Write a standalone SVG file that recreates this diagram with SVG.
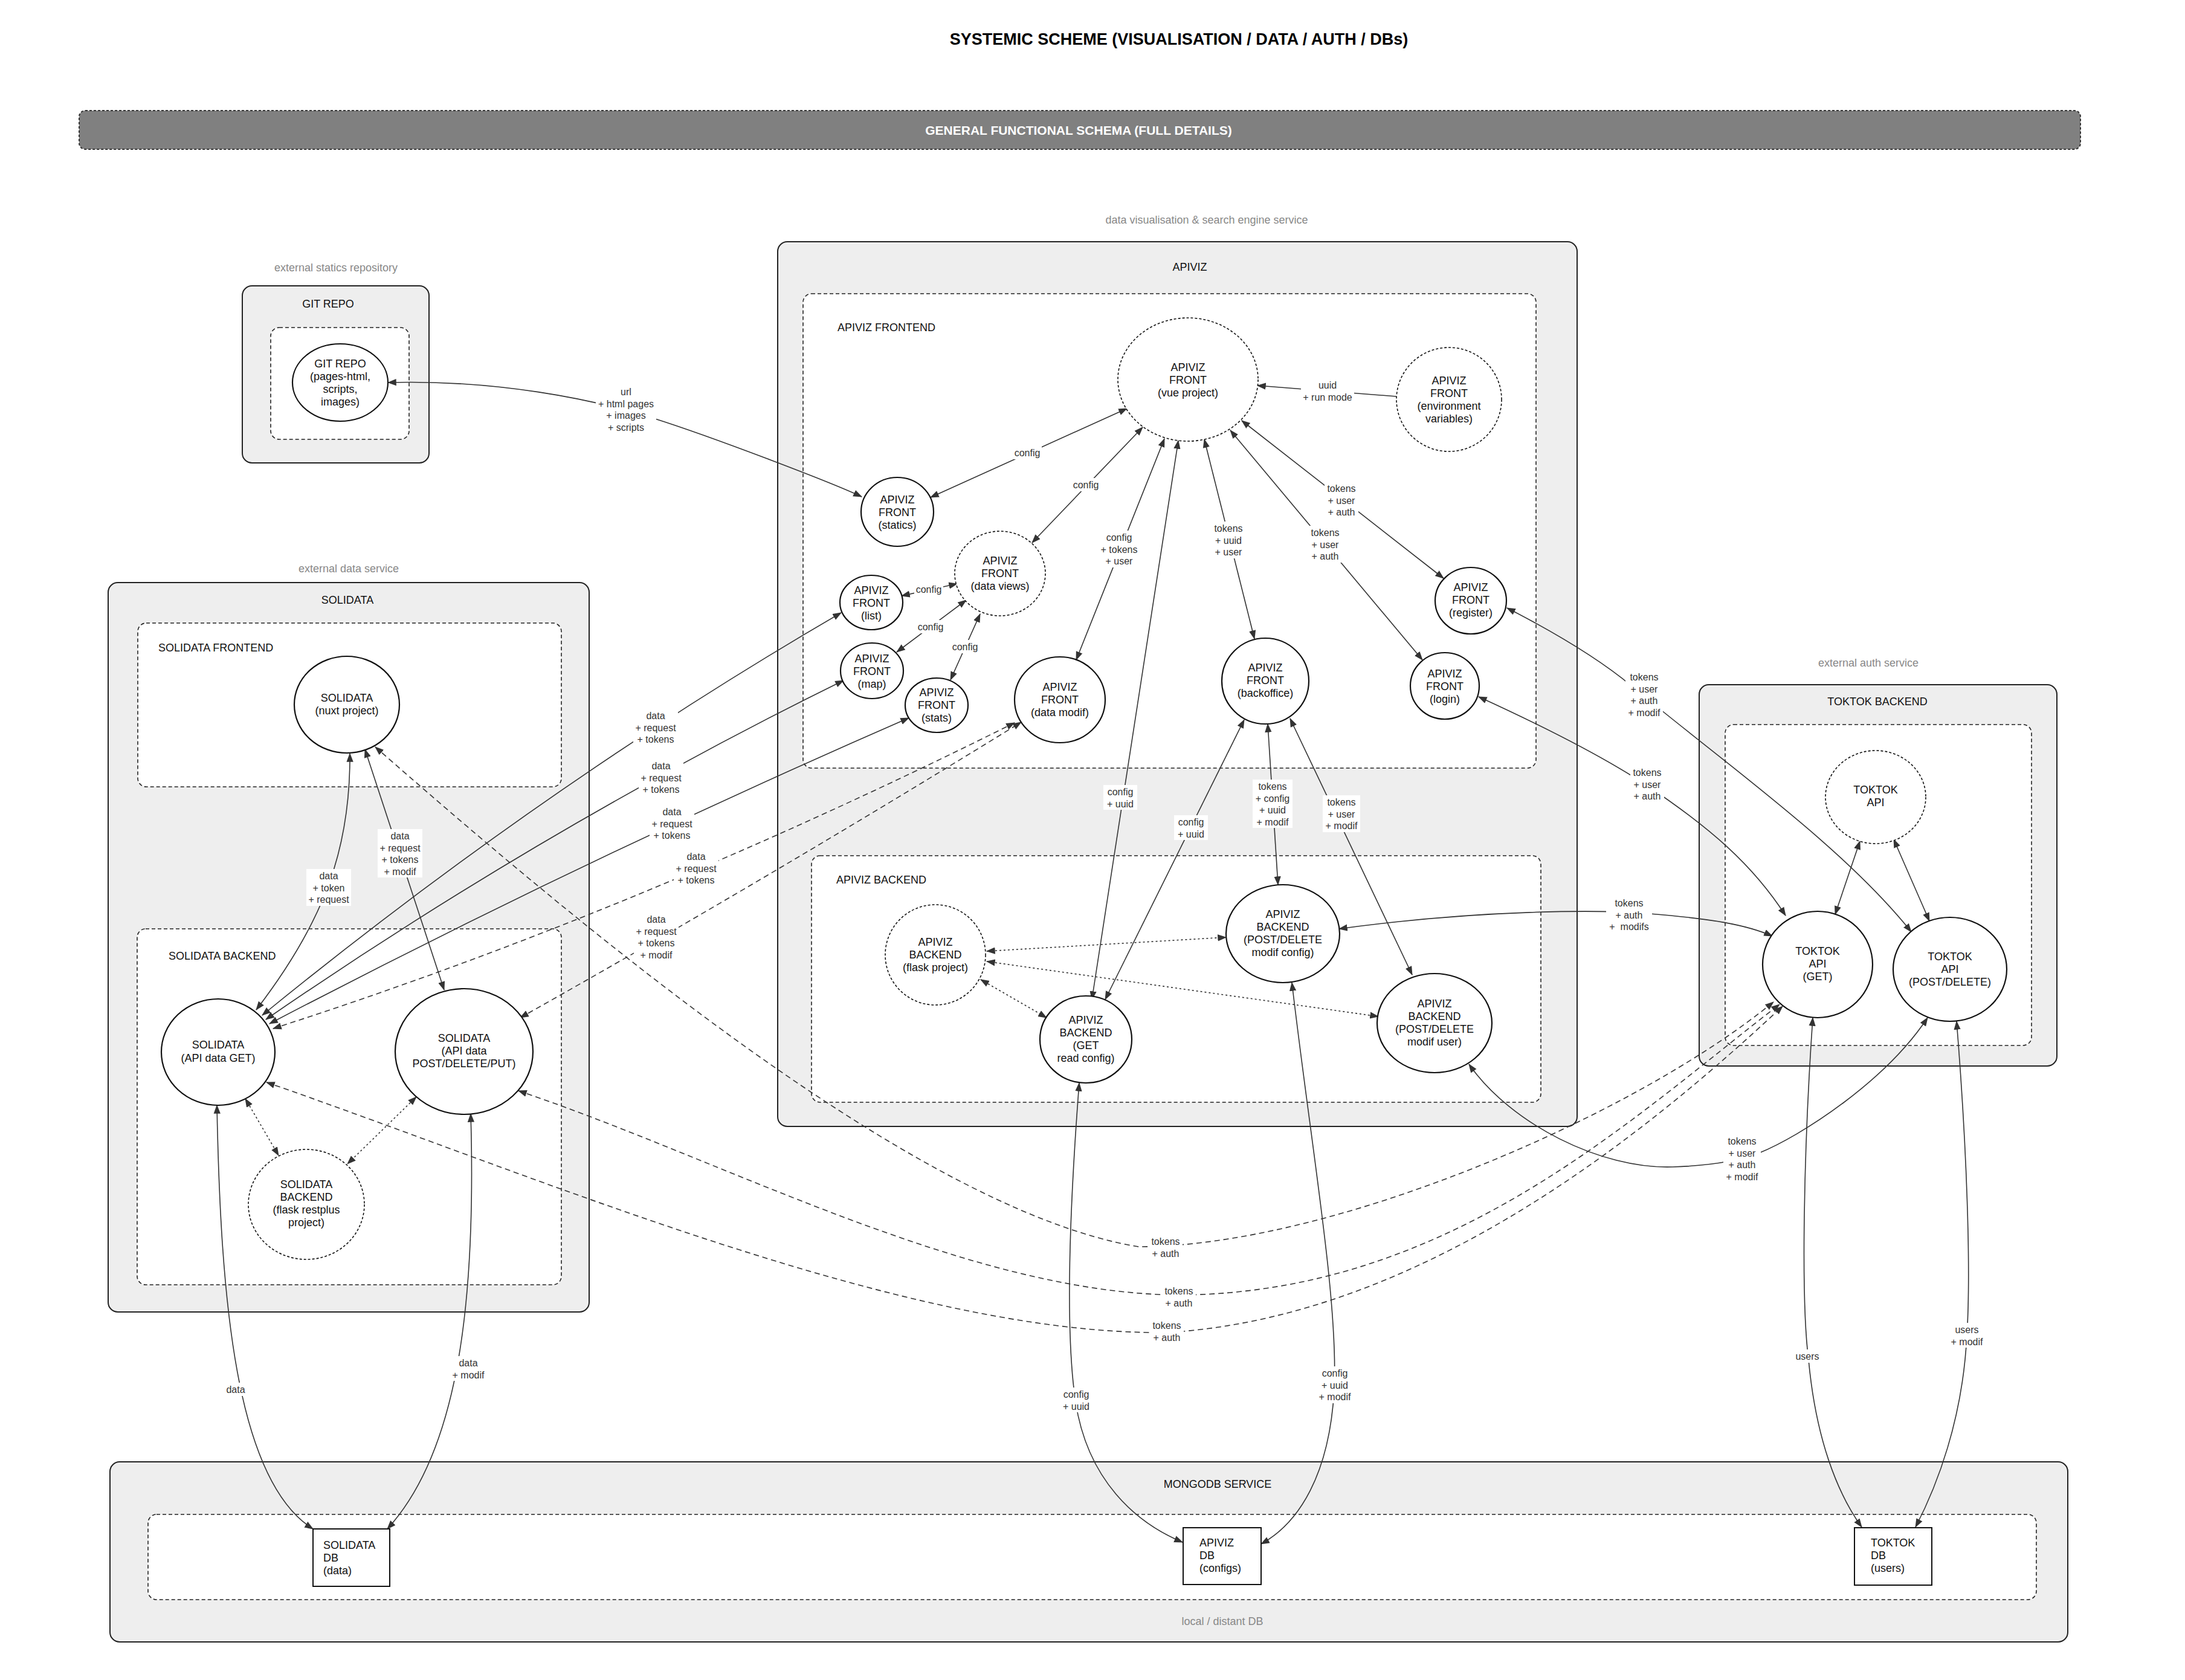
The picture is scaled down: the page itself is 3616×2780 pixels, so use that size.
<svg xmlns="http://www.w3.org/2000/svg" width="3616" height="2780" viewBox="0 0 3616 2780">
  <style>
    .ctr{fill:#eeeeee;stroke:#222;stroke-width:2}
    .grp{fill:#fff;stroke:#222;stroke-width:1.6;stroke-dasharray:6 4}
    .node{fill:#fff;stroke:#111;stroke-width:2.2}
    .ghost{stroke-dasharray:4 3;stroke-width:1.6}
    .db{fill:#fff;stroke:#111;stroke-width:2}
    text{font-family:"Liberation Sans",Arial,Helvetica,sans-serif}
    .nt{font-size:18px;fill:#111;text-anchor:middle}
    .dbt{font-size:18px;fill:#111}
    .cap{font-size:18px;fill:#111}
    .capm{font-size:18px;fill:#111;text-anchor:middle}
    .note{font-size:18px;fill:#888;text-anchor:middle}
    .lbl{font-size:16px;fill:#333;text-anchor:middle}
    .lbg{fill:#fff}
    .e{fill:none;stroke:#333;stroke-width:1.6}
    .dash{stroke-dasharray:9 6}
    .dot{stroke-dasharray:3 4}
  </style>
  <defs>
    <marker id="ah" viewBox="0 0 12 10" refX="11" refY="5" markerWidth="15" markerHeight="12.5" markerUnits="userSpaceOnUse" orient="auto-start-reverse">
      <path d="M0,0.5 L12,5 L0,9.5 z" fill="#333"/>
    </marker>
  </defs>
  <rect width="3616" height="2780" fill="#fff"/>

  <!-- headings -->
  <text x="1951" y="74" text-anchor="middle" font-size="27" font-weight="bold" fill="#000">SYSTEMIC SCHEME (VISUALISATION / DATA / AUTH / DBs)</text>
  <g id="banner">
    <rect x="131" y="183" width="3312" height="64" rx="10" fill="#808080" stroke="#333" stroke-width="2" stroke-dasharray="4 3"/>
    <text x="1785" y="223" text-anchor="middle" font-size="21" font-weight="bold" fill="#fff">GENERAL FUNCTIONAL SCHEMA (FULL DETAILS)</text>
  </g>

  <!-- service containers -->
  <g id="git-repo-service">
    <text class="note" x="556" y="449">external statics repository</text>
    <rect class="ctr" x="401" y="473" width="309" height="293" rx="16"/>
    <text class="capm" x="543" y="509">GIT REPO</text>
    <rect class="grp" x="448" y="542" width="229" height="185" rx="14"/>
  </g>
  <g id="apiviz-service">
    <text class="note" x="1997" y="370">data visualisation &amp; search engine service</text>
    <rect class="ctr" x="1287" y="400" width="1323" height="1464" rx="16"/>
    <text class="capm" x="1969" y="448">APIVIZ</text>
    <rect class="grp" x="1329" y="486" width="1213" height="785" rx="14"/>
    <text class="cap" x="1386" y="548">APIVIZ FRONTEND</text>
    <rect class="grp" x="1343" y="1416" width="1207" height="408" rx="14"/>
    <text class="cap" x="1384" y="1462">APIVIZ BACKEND</text>
  </g>
  <g id="solidata-service">
    <text class="note" x="577" y="947">external data service</text>
    <rect class="ctr" x="179" y="964" width="796" height="1207" rx="16"/>
    <text class="capm" x="575" y="999">SOLIDATA</text>
    <rect class="grp" x="228" y="1031" width="701" height="271" rx="14"/>
    <text class="cap" x="262" y="1078">SOLIDATA FRONTEND</text>
    <rect class="grp" x="227" y="1537" width="702" height="589" rx="14"/>
    <text class="cap" x="279" y="1588">SOLIDATA BACKEND</text>
  </g>
  <g id="toktok-service">
    <text class="note" x="3092" y="1103">external auth service</text>
    <rect class="ctr" x="2812" y="1133" width="592" height="631" rx="16"/>
    <text class="capm" x="3107" y="1167">TOKTOK BACKEND</text>
    <rect class="grp" x="2855" y="1199" width="507" height="531" rx="14"/>
  </g>
  <g id="mongodb-service">
    <rect class="ctr" x="182" y="2419" width="3240" height="298" rx="16"/>
    <text class="capm" x="2015" y="2462">MONGODB SERVICE</text>
    <rect class="grp" x="245" y="2506" width="3125" height="141" rx="14"/>
    <text class="note" x="2023" y="2689">local / distant DB</text>
  </g>

  <!-- connectors -->
  <g id="connectors">
    <g id="edges" marker-end="url(#ah)">
      <!-- apiviz frontend -->
      <path class="e" d="M2311,656 L2081,638"/>
      <path class="e" marker-start="url(#ah)" d="M1865,676 L1540,823"/>
      <path class="e" marker-start="url(#ah)" d="M1891,707 L1708,898"/>
      <path class="e" marker-start="url(#ah)" d="M1584,966 L1492,986"/>
      <path class="e" marker-start="url(#ah)" d="M1599,993 L1484,1079"/>
      <path class="e" marker-start="url(#ah)" d="M1622,1016 L1573,1125"/>
      <path class="e" marker-start="url(#ah)" d="M1927,726 L1781,1092"/>
      <path class="e" marker-start="url(#ah)" d="M1950,729 L1807,1654"/>
      <path class="e" marker-start="url(#ah)" d="M1993,727 L2076,1057"/>
      <path class="e" marker-start="url(#ah)" d="M2055,696 L2389,957"/>
      <path class="e" marker-start="url(#ah)" d="M2036,712 L2354,1092"/>
      <!-- apiviz front to back -->
      <path class="e" marker-start="url(#ah)" d="M2059,1191 L1829,1654"/>
      <path class="e" marker-start="url(#ah)" d="M2098,1198 L2115,1464"/>
      <path class="e" marker-start="url(#ah)" d="M2135,1189 L2337,1613"/>
      <!-- apiviz backend internals -->
      <path class="e dot" marker-start="url(#ah)" d="M1633,1574 L2029,1551"/>
      <path class="e dot" marker-start="url(#ah)" d="M1633,1591 L2281,1682"/>
      <path class="e dot" marker-start="url(#ah)" d="M1623,1621 L1732,1684"/>
      <!-- toktok internals -->
      <path class="e" marker-start="url(#ah)" d="M3078,1392 L3037,1513"/>
      <path class="e" marker-start="url(#ah)" d="M3134,1389 L3193,1524"/>
      <!-- solidata internals -->
      <path class="e" marker-start="url(#ah)" d="M579,1247 C580,1400 540,1520 424,1671"/>
      <path class="e" marker-start="url(#ah)" d="M604,1240 L735,1638"/>
      <path class="e dot" marker-start="url(#ah)" d="M406,1818 L461,1912"/>
      <path class="e dot" marker-start="url(#ah)" d="M689,1815 L575,1926"/>
      <!-- statics repository -->
      <path class="e" marker-start="url(#ah)" d="M642,633 C820,628 980,660 1081,692 S1380,800 1426,822"/>
      <!-- solidata api to apiviz views -->
      <path class="e" marker-start="url(#ah)" d="M434,1680 Q900,1300 1392,1014"/>
      <path class="e" marker-start="url(#ah)" d="M440,1687 Q900,1370 1396,1126"/>
      <path class="e" marker-start="url(#ah)" d="M446,1694 Q960,1425 1504,1188"/>
      <path class="e dash" marker-start="url(#ah)" d="M452,1702 Q1050,1510 1679,1196"/>
      <path class="e dash" marker-start="url(#ah)" d="M861,1684 Q1260,1460 1690,1195"/>
      <!-- solidata to toktok auth -->
      <path class="e dash" marker-start="url(#ah)" d="M621,1236 C900,1480 1500,2000 1884,2063 C2200,2063 2700,1850 2935,1658"/>
      <path class="e dash" marker-start="url(#ah)" d="M858,1805 C1200,1920 1600,2140 1951,2143 C2400,2140 2700,1850 2945,1662"/>
      <path class="e dash" marker-start="url(#ah)" d="M441,1791 C900,1950 1500,2210 1931,2205 C2350,2180 2720,1880 2950,1665"/>
      <!-- apiviz to toktok -->
      <path class="e" marker-start="url(#ah)" d="M2494,1006 C2560,1040 2640,1085 2700,1135 C2850,1260 3050,1400 3163,1542"/>
      <path class="e" marker-start="url(#ah)" d="M2447,1153 C2550,1200 2650,1250 2726,1300 C2830,1370 2900,1430 2955,1515"/>
      <path class="e" marker-start="url(#ah)" d="M2216,1537 C2450,1505 2650,1505 2730,1512 C2830,1520 2890,1530 2933,1549"/>
      <path class="e" marker-start="url(#ah)" d="M2431,1761 C2500,1860 2650,1935 2768,1931 C2850,1928 2880,1918 2911,1908 C2980,1880 3120,1790 3190,1684"/>
      <!-- databases -->
      <path class="e" marker-start="url(#ah)" d="M359,1829 C365,2150 390,2450 518,2530"/>
      <path class="e" marker-start="url(#ah)" d="M779,1843 C788,2150 760,2400 641,2530"/>
      <path class="e" marker-start="url(#ah)" d="M1786,1792 C1770,2000 1762,2200 1780,2320 C1800,2450 1880,2520 1957,2552"/>
      <path class="e" marker-start="url(#ah)" d="M2138,1626 C2170,1900 2215,2150 2208,2300 C2200,2440 2150,2520 2087,2555"/>
      <path class="e" marker-start="url(#ah)" d="M3000,1684 C2985,1900 2980,2150 2993,2250 C3005,2380 3040,2470 3081,2527"/>
      <path class="e" marker-start="url(#ah)" d="M3238,1690 C3255,1900 3262,2100 3255,2210 C3248,2350 3205,2460 3170,2527"/>
    </g>

    <g id="edge-labels">
      <rect class="lbg" x="986" y="637" width="100" height="80"/>
      <text class="lbl" x="1036" y="654"><tspan x="1036">url</tspan><tspan x="1036" dy="19.5">+ html pages</tspan><tspan x="1036" dy="19.5">+ images</tspan><tspan x="1036" dy="19.5">+ scripts</tspan></text>

      <rect class="lbg" x="2153" y="626" width="88" height="41"/>
      <text class="lbl" x="2197" y="643"><tspan x="2197">uuid</tspan><tspan x="2197" dy="19.5">+ run mode</tspan></text>

      <rect class="lbg" x="1676" y="738" width="48" height="22"/>
      <text class="lbl" x="1700" y="755">config</text>
      <rect class="lbg" x="1773" y="791" width="48" height="22"/>
      <text class="lbl" x="1797" y="808">config</text>
      <rect class="lbg" x="1513" y="964" width="48" height="22"/>
      <text class="lbl" x="1537" y="981">config</text>
      <rect class="lbg" x="1516" y="1026" width="48" height="22"/>
      <text class="lbl" x="1540" y="1043">config</text>
      <rect class="lbg" x="1573" y="1059" width="48" height="22"/>
      <text class="lbl" x="1597" y="1076">config</text>

      <rect class="lbg" x="1818" y="878" width="68" height="61"/>
      <text class="lbl" x="1852" y="895"><tspan x="1852">config</tspan><tspan x="1852" dy="19.5">+ tokens</tspan><tspan x="1852" dy="19.5">+ user</tspan></text>
      <rect class="lbg" x="2005" y="863" width="56" height="61"/>
      <text class="lbl" x="2033" y="880"><tspan x="2033">tokens</tspan><tspan x="2033" dy="19.5">+ uuid</tspan><tspan x="2033" dy="19.5">+ user</tspan></text>
      <rect class="lbg" x="2192" y="797" width="56" height="61"/>
      <text class="lbl" x="2220" y="814"><tspan x="2220">tokens</tspan><tspan x="2220" dy="19.5">+ user</tspan><tspan x="2220" dy="19.5">+ auth</tspan></text>
      <rect class="lbg" x="2165" y="870" width="56" height="61"/>
      <text class="lbl" x="2193" y="887"><tspan x="2193">tokens</tspan><tspan x="2193" dy="19.5">+ user</tspan><tspan x="2193" dy="19.5">+ auth</tspan></text>

      <rect class="lbg" x="1826" y="1299" width="56" height="41"/>
      <text class="lbl" x="1854" y="1316"><tspan x="1854">config</tspan><tspan x="1854" dy="19.5">+ uuid</tspan></text>
      <rect class="lbg" x="1943" y="1349" width="56" height="41"/>
      <text class="lbl" x="1971" y="1366"><tspan x="1971">config</tspan><tspan x="1971" dy="19.5">+ uuid</tspan></text>
      <rect class="lbg" x="2073" y="1290" width="66" height="80"/>
      <text class="lbl" x="2106" y="1307"><tspan x="2106">tokens</tspan><tspan x="2106" dy="19.5">+ config</tspan><tspan x="2106" dy="19.5">+ uuid</tspan><tspan x="2106" dy="19.5">+ modif</tspan></text>
      <rect class="lbg" x="2189" y="1316" width="62" height="61"/>
      <text class="lbl" x="2220" y="1333"><tspan x="2220">tokens</tspan><tspan x="2220" dy="19.5">+ user</tspan><tspan x="2220" dy="19.5">+ modif</tspan></text>

      <rect class="lbg" x="2690" y="1109" width="62" height="80"/>
      <text class="lbl" x="2721" y="1126"><tspan x="2721">tokens</tspan><tspan x="2721" dy="19.5">+ user</tspan><tspan x="2721" dy="19.5">+ auth</tspan><tspan x="2721" dy="19.5">+ modif</tspan></text>
      <rect class="lbg" x="2698" y="1267" width="56" height="61"/>
      <text class="lbl" x="2726" y="1284"><tspan x="2726">tokens</tspan><tspan x="2726" dy="19.5">+ user</tspan><tspan x="2726" dy="19.5">+ auth</tspan></text>
      <rect class="lbg" x="2658" y="1483" width="76" height="61"/>
      <text class="lbl" x="2696" y="1500"><tspan x="2696">tokens</tspan><tspan x="2696" dy="19.5">+ auth</tspan><tspan x="2696" dy="19.5">+&#160; modifs</tspan></text>
      <rect class="lbg" x="2852" y="1877" width="62" height="80"/>
      <text class="lbl" x="2883" y="1894"><tspan x="2883">tokens</tspan><tspan x="2883" dy="19.5">+ user</tspan><tspan x="2883" dy="19.5">+ auth</tspan><tspan x="2883" dy="19.5">+ modif</tspan></text>

      <rect class="lbg" x="1048" y="1173" width="74" height="61"/>
      <text class="lbl" x="1085" y="1190"><tspan x="1085">data</tspan><tspan x="1085" dy="19.5">+ request</tspan><tspan x="1085" dy="19.5">+ tokens</tspan></text>
      <rect class="lbg" x="1057" y="1256" width="74" height="61"/>
      <text class="lbl" x="1094" y="1273"><tspan x="1094">data</tspan><tspan x="1094" dy="19.5">+ request</tspan><tspan x="1094" dy="19.5">+ tokens</tspan></text>
      <rect class="lbg" x="1075" y="1332" width="74" height="61"/>
      <text class="lbl" x="1112" y="1349"><tspan x="1112">data</tspan><tspan x="1112" dy="19.5">+ request</tspan><tspan x="1112" dy="19.5">+ tokens</tspan></text>
      <rect class="lbg" x="1115" y="1406" width="74" height="61"/>
      <text class="lbl" x="1152" y="1423"><tspan x="1152">data</tspan><tspan x="1152" dy="19.5">+ request</tspan><tspan x="1152" dy="19.5">+ tokens</tspan></text>
      <rect class="lbg" x="1049" y="1510" width="74" height="80"/>
      <text class="lbl" x="1086" y="1527"><tspan x="1086">data</tspan><tspan x="1086" dy="19.5">+ request</tspan><tspan x="1086" dy="19.5">+ tokens</tspan><tspan x="1086" dy="19.5">+ modif</tspan></text>

      <rect class="lbg" x="507" y="1438" width="74" height="61"/>
      <text class="lbl" x="544" y="1455"><tspan x="544">data</tspan><tspan x="544" dy="19.5">+ token</tspan><tspan x="544" dy="19.5">+ request</tspan></text>
      <rect class="lbg" x="625" y="1372" width="74" height="80"/>
      <text class="lbl" x="662" y="1389"><tspan x="662">data</tspan><tspan x="662" dy="19.5">+ request</tspan><tspan x="662" dy="19.5">+ tokens</tspan><tspan x="662" dy="19.5">+ modif</tspan></text>

      <rect class="lbg" x="1901" y="2043" width="56" height="41"/>
      <text class="lbl" x="1929" y="2060"><tspan x="1929">tokens</tspan><tspan x="1929" dy="19.5">+ auth</tspan></text>
      <rect class="lbg" x="1923" y="2125" width="56" height="41"/>
      <text class="lbl" x="1951" y="2142"><tspan x="1951">tokens</tspan><tspan x="1951" dy="19.5">+ auth</tspan></text>
      <rect class="lbg" x="1903" y="2182" width="56" height="41"/>
      <text class="lbl" x="1931" y="2199"><tspan x="1931">tokens</tspan><tspan x="1931" dy="19.5">+ auth</tspan></text>

      <rect class="lbg" x="372" y="2288" width="36" height="22"/>
      <text class="lbl" x="390" y="2305">data</text>
      <rect class="lbg" x="747" y="2244" width="56" height="41"/>
      <text class="lbl" x="775" y="2261"><tspan x="775">data</tspan><tspan x="775" dy="19.5">+ modif</tspan></text>
      <rect class="lbg" x="1753" y="2296" width="56" height="41"/>
      <text class="lbl" x="1781" y="2313"><tspan x="1781">config</tspan><tspan x="1781" dy="19.5">+ uuid</tspan></text>
      <rect class="lbg" x="2179" y="2261" width="60" height="61"/>
      <text class="lbl" x="2209" y="2278"><tspan x="2209">config</tspan><tspan x="2209" dy="19.5">+ uuid</tspan><tspan x="2209" dy="19.5">+ modif</tspan></text>
      <rect class="lbg" x="2969" y="2233" width="44" height="22"/>
      <text class="lbl" x="2991" y="2250">users</text>
      <rect class="lbg" x="3227" y="2189" width="56" height="41"/>
      <text class="lbl" x="3255" y="2206"><tspan x="3255">users</tspan><tspan x="3255" dy="19.5">+ modif</tspan></text>
    </g>
  </g>

  <!-- nodes -->
  <g id="git-repo">
    <ellipse class="node" cx="563" cy="633" rx="79" ry="64"/>
    <text class="nt" x="563" y="608"><tspan x="563">GIT REPO</tspan><tspan x="563" dy="21">(pages-html,</tspan><tspan x="563" dy="21">scripts,</tspan><tspan x="563" dy="21">images)</tspan></text>
  </g>
  <g id="apiviz-front-vue">
    <ellipse class="node ghost" cx="1966" cy="628" rx="116" ry="102"/>
    <text class="nt" x="1966" y="614"><tspan x="1966">APIVIZ</tspan><tspan x="1966" dy="21">FRONT</tspan><tspan x="1966" dy="21">(vue project)</tspan></text>
  </g>
  <g id="apiviz-front-env">
    <ellipse class="node ghost" cx="2398" cy="661" rx="87" ry="86"/>
    <text class="nt" x="2398" y="636"><tspan x="2398">APIVIZ</tspan><tspan x="2398" dy="21">FRONT</tspan><tspan x="2398" dy="21">(environment</tspan><tspan x="2398" dy="21">variables)</tspan></text>
  </g>
  <g id="apiviz-front-statics">
    <ellipse class="node" cx="1485" cy="847" rx="60" ry="57"/>
    <text class="nt" x="1485" y="833"><tspan x="1485">APIVIZ</tspan><tspan x="1485" dy="21">FRONT</tspan><tspan x="1485" dy="21">(statics)</tspan></text>
  </g>
  <g id="apiviz-front-dataviews">
    <ellipse class="node ghost" cx="1655" cy="949" rx="75" ry="70"/>
    <text class="nt" x="1655" y="934"><tspan x="1655">APIVIZ</tspan><tspan x="1655" dy="21">FRONT</tspan><tspan x="1655" dy="21">(data views)</tspan></text>
  </g>
  <g id="apiviz-front-list">
    <ellipse class="node" cx="1442" cy="997" rx="52" ry="45"/>
    <text class="nt" x="1442" y="983"><tspan x="1442">APIVIZ</tspan><tspan x="1442" dy="21">FRONT</tspan><tspan x="1442" dy="21">(list)</tspan></text>
  </g>
  <g id="apiviz-front-map">
    <ellipse class="node" cx="1443" cy="1110" rx="52" ry="46"/>
    <text class="nt" x="1443" y="1096"><tspan x="1443">APIVIZ</tspan><tspan x="1443" dy="21">FRONT</tspan><tspan x="1443" dy="21">(map)</tspan></text>
  </g>
  <g id="apiviz-front-stats">
    <ellipse class="node" cx="1550" cy="1167" rx="52" ry="45"/>
    <text class="nt" x="1550" y="1152"><tspan x="1550">APIVIZ</tspan><tspan x="1550" dy="21">FRONT</tspan><tspan x="1550" dy="21">(stats)</tspan></text>
  </g>
  <g id="apiviz-front-datamodif">
    <ellipse class="node" cx="1754" cy="1158" rx="75" ry="71"/>
    <text class="nt" x="1754" y="1143"><tspan x="1754">APIVIZ</tspan><tspan x="1754" dy="21">FRONT</tspan><tspan x="1754" dy="21">(data modif)</tspan></text>
  </g>
  <g id="apiviz-front-backoffice">
    <ellipse class="node" cx="2094" cy="1127" rx="72" ry="71"/>
    <text class="nt" x="2094" y="1111"><tspan x="2094">APIVIZ</tspan><tspan x="2094" dy="21">FRONT</tspan><tspan x="2094" dy="21">(backoffice)</tspan></text>
  </g>
  <g id="apiviz-front-register">
    <ellipse class="node" cx="2434" cy="994" rx="59" ry="55"/>
    <text class="nt" x="2434" y="978"><tspan x="2434">APIVIZ</tspan><tspan x="2434" dy="21">FRONT</tspan><tspan x="2434" dy="21">(register)</tspan></text>
  </g>
  <g id="apiviz-front-login">
    <ellipse class="node" cx="2391" cy="1135" rx="57" ry="55"/>
    <text class="nt" x="2391" y="1121"><tspan x="2391">APIVIZ</tspan><tspan x="2391" dy="21">FRONT</tspan><tspan x="2391" dy="21">(login)</tspan></text>
  </g>
  <g id="apiviz-back-flask">
    <ellipse class="node ghost" cx="1548" cy="1580" rx="83" ry="83"/>
    <text class="nt" x="1548" y="1565"><tspan x="1548">APIVIZ</tspan><tspan x="1548" dy="21">BACKEND</tspan><tspan x="1548" dy="21">(flask project)</tspan></text>
  </g>
  <g id="apiviz-back-get">
    <ellipse class="node" cx="1797" cy="1720" rx="76" ry="72"/>
    <text class="nt" x="1797" y="1694"><tspan x="1797">APIVIZ</tspan><tspan x="1797" dy="21">BACKEND</tspan><tspan x="1797" dy="21">(GET</tspan><tspan x="1797" dy="21">read config)</tspan></text>
  </g>
  <g id="apiviz-back-modif-config">
    <ellipse class="node" cx="2123" cy="1545" rx="94" ry="81"/>
    <text class="nt" x="2123" y="1519"><tspan x="2123">APIVIZ</tspan><tspan x="2123" dy="21">BACKEND</tspan><tspan x="2123" dy="21">(POST/DELETE</tspan><tspan x="2123" dy="21">modif config)</tspan></text>
  </g>
  <g id="apiviz-back-modif-user">
    <ellipse class="node" cx="2374" cy="1693" rx="95" ry="82"/>
    <text class="nt" x="2374" y="1667"><tspan x="2374">APIVIZ</tspan><tspan x="2374" dy="21">BACKEND</tspan><tspan x="2374" dy="21">(POST/DELETE</tspan><tspan x="2374" dy="21">modif user)</tspan></text>
  </g>
  <g id="solidata-nuxt">
    <ellipse class="node" cx="574" cy="1166" rx="87" ry="80"/>
    <text class="nt" x="574" y="1161"><tspan x="574">SOLIDATA</tspan><tspan x="574" dy="21">(nuxt project)</tspan></text>
  </g>
  <g id="solidata-api-get">
    <ellipse class="node" cx="361" cy="1741" rx="94" ry="88"/>
    <text class="nt" x="361" y="1735"><tspan x="361">SOLIDATA</tspan><tspan x="361" dy="22">(API data GET)</tspan></text>
  </g>
  <g id="solidata-api-post">
    <ellipse class="node" cx="768" cy="1740" rx="114" ry="104"/>
    <text class="nt" x="768" y="1724"><tspan x="768">SOLIDATA</tspan><tspan x="768" dy="21">(API data</tspan><tspan x="768" dy="21">POST/DELETE/PUT)</tspan></text>
  </g>
  <g id="solidata-flask">
    <ellipse class="node ghost" cx="507" cy="1993" rx="96" ry="91"/>
    <text class="nt" x="507" y="1966"><tspan x="507">SOLIDATA</tspan><tspan x="507" dy="21">BACKEND</tspan><tspan x="507" dy="21">(flask restplus</tspan><tspan x="507" dy="21">project)</tspan></text>
  </g>
  <g id="toktok-api">
    <ellipse class="node ghost" cx="3104" cy="1319" rx="83" ry="77"/>
    <text class="nt" x="3104" y="1313"><tspan x="3104">TOKTOK</tspan><tspan x="3104" dy="21">API</tspan></text>
  </g>
  <g id="toktok-api-get">
    <ellipse class="node" cx="3008" cy="1596" rx="91" ry="88"/>
    <text class="nt" x="3008" y="1580"><tspan x="3008">TOKTOK</tspan><tspan x="3008" dy="21">API</tspan><tspan x="3008" dy="21">(GET)</tspan></text>
  </g>
  <g id="toktok-api-post">
    <ellipse class="node" cx="3227" cy="1604" rx="94" ry="86"/>
    <text class="nt" x="3227" y="1589"><tspan x="3227">TOKTOK</tspan><tspan x="3227" dy="21">API</tspan><tspan x="3227" dy="21">(POST/DELETE)</tspan></text>
  </g>
  <g id="solidata-db">
    <rect class="db" x="518" y="2530" width="127" height="95"/>
    <text class="dbt" x="535" y="2563"><tspan x="535">SOLIDATA</tspan><tspan x="535" dy="21">DB</tspan><tspan x="535" dy="21">(data)</tspan></text>
  </g>
  <g id="apiviz-db">
    <rect class="db" x="1958" y="2528" width="129" height="94"/>
    <text class="dbt" x="1985" y="2559"><tspan x="1985">APIVIZ</tspan><tspan x="1985" dy="21">DB</tspan><tspan x="1985" dy="21">(configs)</tspan></text>
  </g>
  <g id="toktok-db">
    <rect class="db" x="3069" y="2528" width="128" height="95"/>
    <text class="dbt" x="3096" y="2559"><tspan x="3096">TOKTOK</tspan><tspan x="3096" dy="21">DB</tspan><tspan x="3096" dy="21">(users)</tspan></text>
  </g>
</svg>
